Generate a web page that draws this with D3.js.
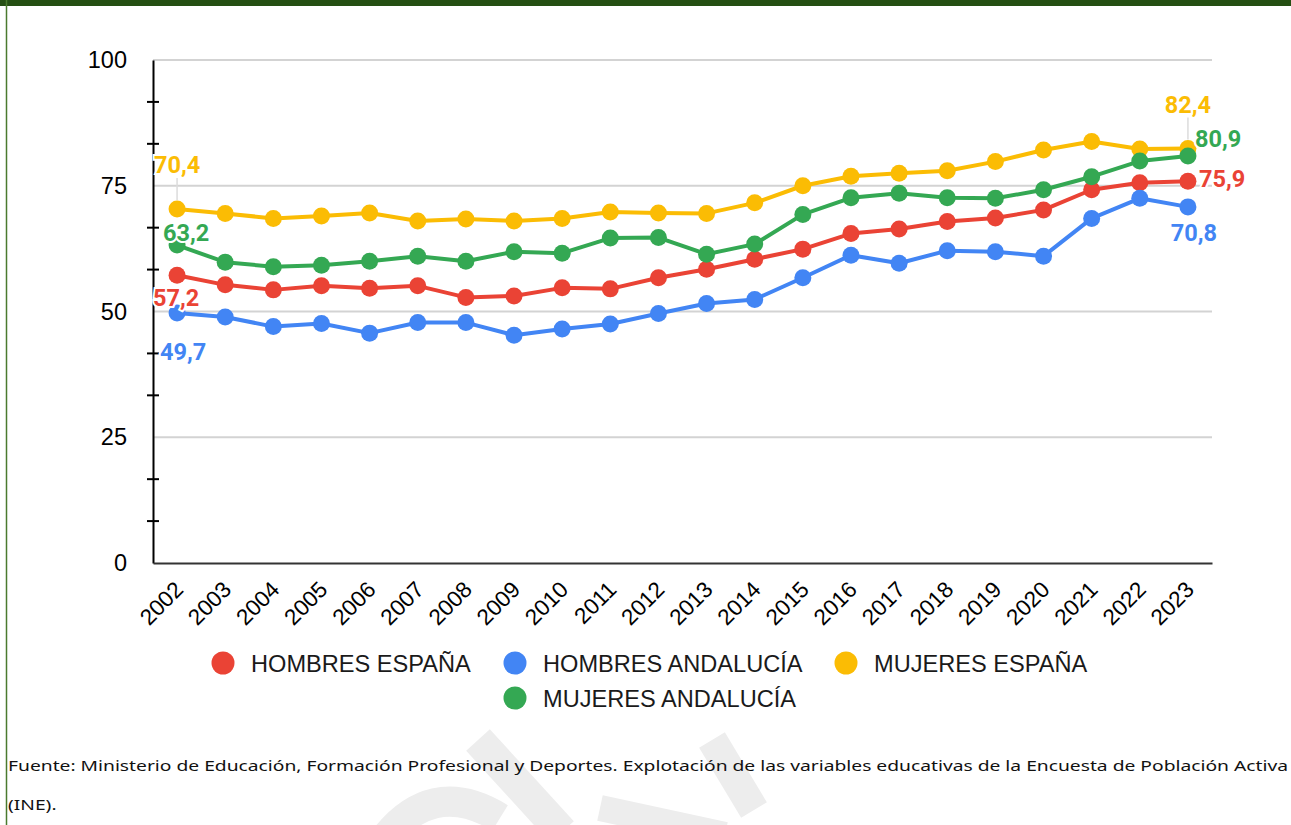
<!DOCTYPE html>
<html>
<head>
<meta charset="utf-8">
<script src="https://cdn.jsdelivr.net/npm/d3@7"></script>
<style>
  body { margin: 0; background: #fff; }
  svg { display: block; }
</style>
</head>
<body>
<svg id="chart" width="1291" height="825"></svg>
<script>
// datos
var years = ['2002', '2003', '2004', '2005', '2006', '2007', '2008', '2009', '2010', '2011', '2012',
	'2013', '2014', '2015', '2016', '2017', '2018', '2019', '2020', '2021', '2022', '2023'];
var hombresEspana = [57.2, 55.3, 54.3, 55.1, 54.6, 55.1, 52.8, 53.1, 54.7, 54.5, 56.7,
	58.4, 60.4, 62.4, 65.5, 66.4, 67.9, 68.6, 70.2, 74.2, 75.6, 75.9];
var hombresAndalucia = [49.7, 48.9, 47.0, 47.6, 45.7, 47.8, 47.8, 45.3, 46.5, 47.5, 49.6,
	51.6, 52.4, 56.7, 61.2, 59.6, 62.1, 61.9, 61.0, 68.5, 72.5, 70.8];
var mujeresEspana = [70.4, 69.5, 68.5, 69.0, 69.6, 68.0, 68.4, 68.0, 68.5, 69.8, 69.6,
	69.5, 71.6, 75.0, 76.9, 77.5, 78.0, 79.8, 82.1, 83.8, 82.3, 82.4];
var mujeresAndalucia = [63.2, 59.8, 58.9, 59.2, 60.0, 61.0, 60.0, 61.9, 61.6, 64.6, 64.7,
	61.4, 63.4, 69.3, 72.6, 73.5, 72.6, 72.5, 74.2, 76.8, 79.9, 80.9];
var seriesNames = ['HOMBRES ESPAÑA', 'HOMBRES ANDALUCÍA', 'MUJERES ESPAÑA', 'MUJERES ANDALUCÍA'];
var yTicks = [0, 25, 50, 75, 100];
var source1 = 'Fuente: Ministerio de Educación, Formación Profesional y Deportes. Explotación de las variables educativas de la Encuesta de Población Activa';
var source2 = '(INE).';

var colors = ['#ea4335', '#4285f4', '#fbbc04', '#34a853'];
var allValues = [hombresEspana, hombresAndalucia, mujeresEspana, mujeresAndalucia];

// posicion de las etiquetas de inicio y fin (dx, dy respecto al punto, anclaje, linea guia)
var firstLabel = [
	{dx: -1, dy: 31, anchor: 'middle'},
	{dx: 6, dy: 47, anchor: 'middle'},
	{dx: 0, dy: -36, anchor: 'middle', leader: true},
	{dx: 9, dy: -4, anchor: 'middle'}
];
var lastLabel = [
	{dx: 11, dy: 6, anchor: 'start'},
	{dx: 6, dy: 34, anchor: 'middle'},
	{dx: 0, dy: -36, anchor: 'middle', leader: true},
	{dx: 7, dy: -9, anchor: 'start'}
];

var svg = d3.select('#chart');

// marca de agua
var wm = svg.append('g').attr('fill', 'none').attr('stroke', '#ededed');
wm.append('path').attr('d', 'M478,740 L562,832').attr('stroke-width', 32);
wm.append('path').attr('d', 'M380,845 Q430,775 500,818').attr('stroke-width', 30);
wm.append('path').attr('d', 'M600,808 L725,835').attr('stroke-width', 26);
wm.append('path').attr('d', 'M712,740 L754,810').attr('stroke-width', 30);

// marco
svg.append('rect').attr('x', 0).attr('y', 0).attr('width', 1291).attr('height', 6).attr('fill', '#254f13');
svg.append('line').attr('x1', 6.5).attr('x2', 6.5).attr('y1', 0).attr('y2', 825)
	.attr('stroke', '#4a7a2e').attr('stroke-width', 1.5);

var x = d3.scalePoint().domain(years).range([153, 1212]).padding(0.5);
var y = d3.scaleLinear().domain([0, 100]).range([563, 60]);

// lineas de cuadricula
svg.append('g').selectAll('line').data(yTicks.filter(function (d) { return d > 0; }))
	.enter().append('line')
	.attr('x1', 153).attr('x2', 1212)
	.attr('y1', function (d) { return y(d); }).attr('y2', function (d) { return y(d); })
	.attr('stroke', '#d3d3d3').attr('stroke-width', 2);

// eje y
var yAxis = svg.append('g').attr('transform', 'translate(153,0)')
	.call(d3.axisLeft(y).tickValues(yTicks).tickSize(0).tickSizeOuter(0).tickPadding(26));
yAxis.select('.domain').attr('stroke', '#000').attr('stroke-width', 2);
yAxis.selectAll('text').attr('font-family', 'Liberation Sans, Arial, sans-serif')
	.attr('font-size', 23.5).attr('fill', '#000');

var minor = d3.range(0, 100, 25 / 3).filter(function (d) { return Math.abs(d % 25) > 0.1; });
svg.append('g').selectAll('line').data(minor).enter().append('line')
	.attr('x1', 147).attr('x2', 159)
	.attr('y1', function (d) { return y(d); }).attr('y2', function (d) { return y(d); })
	.attr('stroke', '#000').attr('stroke-width', 2);

// eje x
var xAxis = svg.append('g').attr('transform', 'translate(0,563)')
	.call(d3.axisBottom(x).tickSize(0).tickSizeOuter(0));
xAxis.select('.domain').attr('stroke', '#333').attr('stroke-width', 2);
xAxis.selectAll('text')
	.attr('font-family', 'Liberation Sans, Arial, sans-serif')
	.attr('font-size', 22.5).attr('fill', '#000')
	.attr('text-anchor', 'end')
	.attr('y', 0).attr('dy', 0)
	.attr('transform', 'translate(7,28) rotate(-45)');

// series
var line = d3.line().x(function (d, i) { return x(years[i]); }).y(function (d) { return y(d); });
allValues.forEach(function (vals, s) {
	var g = svg.append('g');
	g.append('path').datum(vals).attr('d', line)
		.attr('fill', 'none').attr('stroke', colors[s]).attr('stroke-width', 4)
		.attr('stroke-linejoin', 'round');
	g.selectAll('circle').data(vals).enter().append('circle')
		.attr('cx', function (d, i) { return x(years[i]); })
		.attr('cy', function (d) { return y(d); })
		.attr('r', 8.5).attr('fill', colors[s]);
});

// etiquetas de datos
function fmt(v) { return d3.format('.1f')(v).replace('.', ','); }
function dataLabel(s, i, o) {
	var px = x(years[i]), py = y(allValues[s][i]);
	if (o.leader) {
		svg.append('line').attr('x1', px).attr('x2', px)
			.attr('y1', py + o.dy + 5).attr('y2', py - 9)
			.attr('stroke', '#dcdcdc').attr('stroke-width', 1.5);
	}
	svg.append('text').attr('x', px + o.dx).attr('y', py + o.dy)
		.attr('text-anchor', o.anchor)
		.attr('font-family', 'Roboto, sans-serif').attr('font-weight', 'bold')
		.attr('font-size', 23.5).attr('fill', colors[s])
		.attr('stroke', '#fff').attr('stroke-width', 4).attr('paint-order', 'stroke')
		.text(fmt(allValues[s][i]));
}
for (var s = 0; s < allValues.length; s++) {
	dataLabel(s, 0, firstLabel[s]);
	dataLabel(s, years.length - 1, lastLabel[s]);
}

// leyenda
var legendPos = [[223, 663], [515, 663], [846, 663], [515, 698]];
var legend = svg.append('g').selectAll('g').data(seriesNames).enter().append('g')
	.attr('transform', function (d, i) { return 'translate(' + legendPos[i][0] + ',' + legendPos[i][1] + ')'; });
legend.append('circle').attr('r', 11.5).attr('fill', function (d, i) { return colors[i]; });
legend.append('text').attr('x', 28).attr('y', 9)
	.attr('font-family', 'Liberation Sans, Arial, sans-serif').attr('font-size', 23.6)
	.attr('fill', '#1a1a1a').text(function (d) { return d; });

// fuente: el texto del original esta estirado en horizontal hasta ocupar todo el ancho
var src = svg.append('text').attr('x', 8).attr('y', 771)
	.attr('font-family', 'Noto Sans, Open Sans, sans-serif').attr('font-size', 15).attr('fill', '#111')
	.text(source1);
var stretch = 1280 / src.node().getComputedTextLength();
src.attr('textLength', 1280).attr('lengthAdjust', 'spacingAndGlyphs');
var src2 = svg.append('text').attr('x', 8).attr('y', 810)
	.attr('font-family', 'Noto Sans, Open Sans, sans-serif').attr('font-size', 15).attr('fill', '#111')
	.text(source2);
src2.attr('textLength', src2.node().getComputedTextLength() * stretch).attr('lengthAdjust', 'spacingAndGlyphs');
</script>
</body>
</html>
